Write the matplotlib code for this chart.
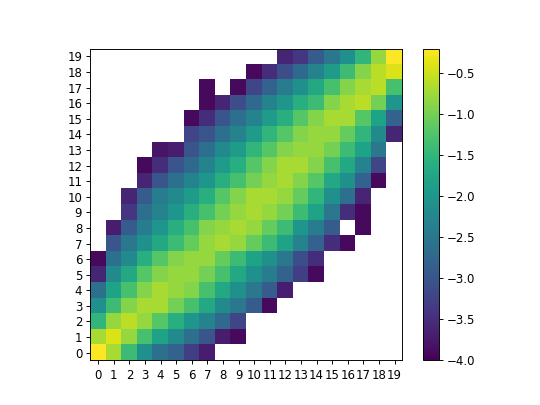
import numpy as np
import matplotlib
matplotlib.use("Agg")
import matplotlib.pyplot as plt

N = None

# log density per cell, row 0 at the bottom, None = empty cell
rows = [
    [-0.2, -0.7, -1.4, -2.1, -2.6, -2.8, -3.3, -3.7] + [N] * 12,
    [-0.7, -0.4, -0.8, -1.3, -1.8, -2.2, -2.6, -3.0, -3.7, -3.9] + [N] * 10,
    [-1.5, -0.8, -0.6, -0.8, -1.2, -1.6, -2.0, -2.3, -2.7, -3.2] + [N] * 10,
    [-2.1, -1.4, -0.9, -0.7, -0.7, -1.0, -1.3, -1.7, -2.2, -2.5, -2.9, -3.9] + [N] * 8,
    [-2.6, -1.8, -1.3, -0.9, -0.7, -0.8, -0.9, -1.3, -1.7, -2.1, -2.5, -2.9, -3.7] + [N] * 7,
    [-3.6, -2.2, -1.7, -1.2, -0.9, -0.8, -0.8, -1.0, -1.3, -1.7, -2.1, -2.4, -2.8, -3.3, -3.9] + [N] * 5,
    [-3.9, -2.6, -2.2, -1.6, -1.2, -0.9, -0.8, -0.8, -1.1, -1.4, -1.8, -2.1, -2.5, -3.1, -3.5] + [N] * 5,
    [N, -3.0, -2.5, -2.1, -1.7, -1.4, -1.1, -0.8, -0.7, -0.8, -1.1, -1.4, -1.8, -2.3, -2.8, -3.5, -3.9] + [N] * 3,
    [N, -3.7, -2.9, -2.4, -2.0, -1.6, -1.3, -0.9, -0.8, -0.7, -0.8, -1.1, -1.4, -2.0, -2.4, -2.9, N, -3.9, N, N],
    [N, N, -3.4, -2.6, -2.3, -2.0, -1.6, -1.3, -1.0, -0.8, -0.7, -0.8, -1.0, -1.4, -1.8, -2.5, -3.5, -3.9, N, N],
    [N, N, -3.6, -2.9, -2.4, -2.2, -1.9, -1.6, -1.2, -0.9, -0.7, -0.7, -0.8, -1.1, -1.5, -2.1, -2.6, -3.6, N, N],
    [N] * 3 + [-3.6, -3.0, -2.6, -2.3, -2.0, -1.6, -1.3, -1.0, -0.8, -0.7, -0.9, -1.2, -1.7, -2.1, -2.8, -3.9, N],
    [N] * 3 + [-3.9, -3.5, -3.0, -2.7, -2.3, -1.9, -1.6, -1.2, -0.9, -0.7, -0.7, -0.9, -1.3, -1.7, -2.3, -3.2, N],
    [N] * 4 + [-3.8, -3.7, -3.0, -2.6, -2.2, -1.9, -1.5, -1.2, -0.9, -0.8, -0.8, -1.0, -1.4, -1.8, -2.5, N],
    [N] * 6 + [-3.2, -3.0, -2.6, -2.3, -1.9, -1.5, -1.2, -0.9, -0.8, -0.8, -1.1, -1.5, -2.2, -3.6],
    [N] * 6 + [-3.9, -3.5, -3.0, -2.6, -2.3, -1.9, -1.6, -1.2, -0.9, -0.7, -0.7, -1.2, -1.8, -2.8],
    [N] * 7 + [-3.9, -3.6, -3.1, -2.7, -2.3, -2.0, -1.6, -1.4, -0.9, -0.7, -0.6, -1.0, -2.0],
    [N] * 7 + [-3.9, N, -3.9, -3.2, -2.8, -2.4, -2.1, -1.7, -1.3, -0.9, -0.7, -0.6, -1.3],
    [N] * 10 + [-3.9, -3.5, -3.1, -2.7, -2.3, -1.9, -1.4, -0.9, -0.6, -0.4],
    [N] * 12 + [-3.6, -3.4, -2.9, -2.5, -2.1, -1.5, -0.8, -0.2],
]

ticks = list(range(20))

grid = np.array([[np.nan if v is None else v for v in r] for r in rows])

fig = plt.figure(figsize=(6.4, 4.8), dpi=540 / 6.4)
im = plt.imshow(grid, origin="lower", cmap="viridis", vmin=-4.0)
plt.xticks(ticks)
plt.yticks(ticks)
plt.colorbar(im)

plt.savefig("out.png", dpi=540 / 6.4)
